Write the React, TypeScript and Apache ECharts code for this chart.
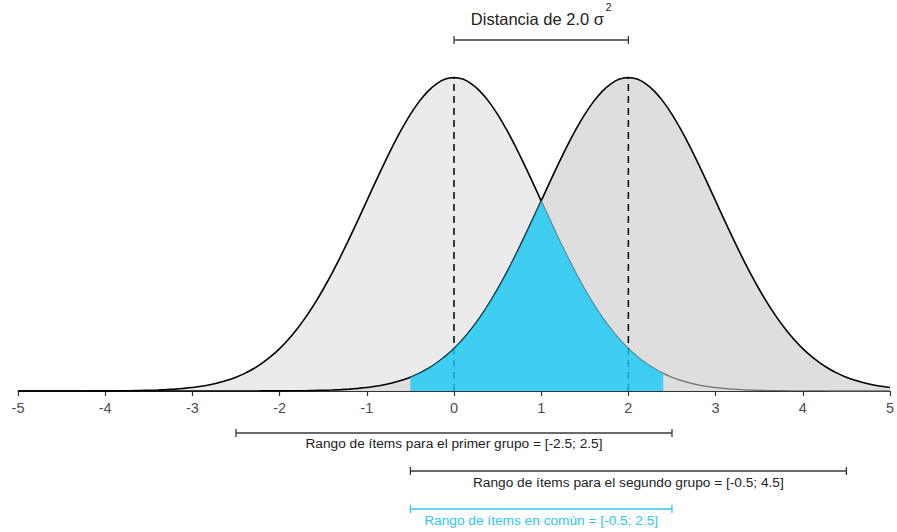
import React, { useEffect, useRef } from "react";
import * as echarts from "echarts";

// Shared x grid for both density curves
const CURVE_X = [
  -5, -4.9, -4.8, -4.7, -4.6, -4.5, -4.4, -4.3, -4.2, -4.1, -4, -3.9, -3.8, -3.7, -3.6, -3.5, -3.4, -3.3, -3.2, -3.1,
  -3, -2.9, -2.8, -2.7, -2.6, -2.5, -2.4, -2.3, -2.2, -2.1, -2, -1.9, -1.8, -1.7, -1.6, -1.5, -1.4, -1.3, -1.2, -1.1,
  -1, -0.9, -0.8, -0.7, -0.6, -0.5, -0.4, -0.3, -0.2, -0.1, 0, 0.1, 0.2, 0.3, 0.4, 0.5, 0.6, 0.7, 0.8, 0.9,
  1, 1.1, 1.2, 1.3, 1.4, 1.5, 1.6, 1.7, 1.8, 1.9, 2, 2.1, 2.2, 2.3, 2.4, 2.5, 2.6, 2.7, 2.8, 2.9,
  3, 3.1, 3.2, 3.3, 3.4, 3.5, 3.6, 3.7, 3.8, 3.9, 4, 4.1, 4.2, 4.3, 4.4, 4.5, 4.6, 4.7, 4.8, 4.9, 5,
];

// Density of the first group (mean 0)
const GROUP1_Y = [
  0, 0, 0, 0, 0, 0, 0, 0, 0.0001, 0.0001, 0.0001, 0.0002, 0.0003, 0.0004, 0.0006, 0.0009, 0.0012, 0.0017, 0.0024, 0.0033,
  0.0044, 0.006, 0.0079, 0.0104, 0.0136, 0.0175, 0.0224, 0.0283, 0.0355, 0.044, 0.054, 0.0656, 0.079, 0.094, 0.1109, 0.1295, 0.1497, 0.1714, 0.1942, 0.2179,
  0.242, 0.2661, 0.2897, 0.3123, 0.3332, 0.3521, 0.3683, 0.3814, 0.391, 0.397, 0.3989, 0.397, 0.391, 0.3814, 0.3683, 0.3521, 0.3332, 0.3123, 0.2897, 0.2661,
  0.242, 0.2179, 0.1942, 0.1714, 0.1497, 0.1295, 0.1109, 0.094, 0.079, 0.0656, 0.054, 0.044, 0.0355, 0.0283, 0.0224, 0.0175, 0.0136, 0.0104, 0.0079, 0.006,
  0.0044, 0.0033, 0.0024, 0.0017, 0.0012, 0.0009, 0.0006, 0.0004, 0.0003, 0.0002, 0.0001, 0.0001, 0.0001, 0, 0, 0, 0, 0, 0, 0, 0,
];

// Density of the second group (mean 2)
const GROUP2_Y = [
  0, 0, 0, 0, 0, 0, 0, 0, 0, 0, 0, 0, 0, 0, 0, 0, 0, 0, 0, 0,
  0, 0, 0, 0, 0, 0, 0, 0, 0.0001, 0.0001, 0.0001, 0.0002, 0.0003, 0.0004, 0.0006, 0.0009, 0.0012, 0.0017, 0.0024, 0.0033,
  0.0044, 0.006, 0.0079, 0.0104, 0.0136, 0.0175, 0.0224, 0.0283, 0.0355, 0.044, 0.054, 0.0656, 0.079, 0.094, 0.1109, 0.1295, 0.1497, 0.1714, 0.1942, 0.2179,
  0.242, 0.2661, 0.2897, 0.3123, 0.3332, 0.3521, 0.3683, 0.3814, 0.391, 0.397, 0.3989, 0.397, 0.391, 0.3814, 0.3683, 0.3521, 0.3332, 0.3123, 0.2897, 0.2661,
  0.242, 0.2179, 0.1942, 0.1714, 0.1497, 0.1295, 0.1109, 0.094, 0.079, 0.0656, 0.054, 0.044, 0.0355, 0.0283, 0.0224, 0.0175, 0.0136, 0.0104, 0.0079, 0.006, 0.0044,
];

// Shared region under both curves
const OVERLAP_X = [
  -0.5, -0.4, -0.3, -0.2, -0.1, 0, 0.1, 0.2, 0.3, 0.4, 0.5, 0.6, 0.7, 0.8, 0.9, 1,
  1.1, 1.2, 1.3, 1.4, 1.5, 1.6, 1.7, 1.8, 1.9, 2, 2.1, 2.2, 2.3, 2.4,
];
const OVERLAP_Y = [
  0.0175, 0.0224, 0.0283, 0.0355, 0.044, 0.054, 0.0656, 0.079, 0.094, 0.1109, 0.1295, 0.1497, 0.1714, 0.1942, 0.2179, 0.242,
  0.2179, 0.1942, 0.1714, 0.1497, 0.1295, 0.1109, 0.094, 0.079, 0.0656, 0.054, 0.044, 0.0355, 0.0283, 0.0224,
];

// Group means (dashed reference lines)
const MEANS = [0, 2];

// Range brackets
const BRACKET_STARTS = [0, -2.5, -0.5, -0.5];
const BRACKET_ENDS = [2, 2.5, 4.5, 2.5];
const BRACKET_LABELS = [
  "Distancia de 2.0 σ",
  "Rango de ítems para el primer grupo = [-2.5; 2.5]",
  "Rango de ítems para el segundo grupo = [-0.5; 4.5]",
  "Rango de ítems en común = [-0.5; 2.5]",
];
const BRACKET_SUPERSCRIPTS = ["2", "", "", ""];

const X_TICKS = [-5, -4, -3, -2, -1, 0, 1, 2, 3, 4, 5];

const FONT = "'Liberation Sans', Arial, sans-serif";
const CYAN = "#2fc8f0";

function textWidth(text: string, font: string) {
  if (!text) return 0;
  return new echarts.graphic.Text({ style: { text, font } }).getBoundingRect().width;
}

export default function App() {
  const ref = useRef<HTMLDivElement>(null);

  useEffect(() => {
    if (!ref.current) return;
    const chart = echarts.init(ref.current, undefined, { renderer: "svg" });

    const g1 = CURVE_X.map((x, i) => [x, GROUP1_Y[i]]);
    const g2 = CURVE_X.map((x, i) => [x, GROUP2_Y[i]]);
    const g1Right = g1.filter((p) => p[0] >= 1);
    const overlap = OVERLAP_X.map((x, i) => [x, OVERLAP_Y[i]]);
    const peak = Math.max(...GROUP1_Y);

    // vertical placement of each bracket row relative to the baseline (px)
    const rowOffsets = [-351, 42, 80, 118];
    const textOffsets = [-372, 52, 91, 129];
    const rowColors = ["#3a3a3a", "#3a3a3a", "#3a3a3a", CYAN];
    const textColors = ["#222", "#222", "#222", CYAN];
    const textSizes = [16.5, 13.7, 13.7, 13.7];
    const supSize = 11;

    const areaSeries = (data: number[][], fill: string, line: string, z: number) => ({
      type: "line",
      data,
      smooth: 0.3,
      showSymbol: false,
      z,
      lineStyle: { color: line, width: 1.6 },
      areaStyle: { color: fill, opacity: 1 },
      silent: true,
    });

    const option: any = {
      animation: false,
      grid: { left: 18, right: 5, top: 61, bottom: 141 },
      xAxis: {
        type: "value",
        min: X_TICKS[0],
        max: X_TICKS[X_TICKS.length - 1],
        interval: 1,
        splitLine: { show: false },
        axisLine: { lineStyle: { color: "#333", width: 1.2 } },
        axisTick: { length: 5, lineStyle: { color: "#333", width: 1.2 } },
        axisLabel: { color: "#4d4d4d", fontSize: 14.5, fontFamily: FONT, margin: 9 },
      },
      yAxis: { type: "value", min: 0, max: 0.42, show: false },
      series: [
        areaSeries(g1, "#ebebeb", "#000", 1),
        areaSeries(g2, "#dedede", "#000", 2),
        {
          type: "line",
          data: g1Right,
          smooth: 0.3,
          showSymbol: false,
          z: 3,
          lineStyle: { color: "#6e6e6e", width: 1.3 },
          silent: true,
        },
        ...MEANS.map((m) => ({
          type: "line",
          data: [
            [m, 0],
            [m, peak],
          ],
          showSymbol: false,
          z: 4,
          lineStyle: { color: "#000", width: 1.5, type: [7, 5] },
          silent: true,
        })),
        {
          type: "line",
          data: overlap,
          smooth: false,
          showSymbol: false,
          z: 6,
          lineStyle: { width: 0, opacity: 0 },
          areaStyle: { color: "rgba(23,201,245,0.8)", opacity: 1 },
          silent: true,
        },
        {
          type: "custom",
          z: 7,
          clip: false,
          silent: true,
          encode: { x: [0, 1], y: 2 },
          data: BRACKET_STARTS.map((s, i) => [s, BRACKET_ENDS[i], i]),
          renderItem: (params: any, api: any) => {
            const i = api.value(2);
            const a = api.coord([api.value(0), 0]);
            const b = api.coord([api.value(1), 0]);
            const y = a[1] + rowOffsets[i];
            const ty = a[1] + textOffsets[i];
            const stroke = { stroke: rowColors[i], lineWidth: 1.3 };
            const font = `${textSizes[i]}px ${FONT}`;
            const supFont = `${supSize}px ${FONT}`;
            const label = BRACKET_LABELS[i];
            const sup = BRACKET_SUPERSCRIPTS[i];
            const w1 = textWidth(label, font);
            const w2 = sup ? textWidth(sup, supFont) + 1.5 : 0;
            const startX = (a[0] + b[0]) / 2 - (w1 + w2) / 2;
            const children: any[] = [
              { type: "line", shape: { x1: a[0], y1: y, x2: b[0], y2: y }, style: stroke },
              { type: "line", shape: { x1: a[0], y1: y - 4, x2: a[0], y2: y + 4 }, style: stroke },
              { type: "line", shape: { x1: b[0], y1: y - 4, x2: b[0], y2: y + 4 }, style: stroke },
              {
                type: "text",
                style: {
                  x: startX,
                  y: ty,
                  text: label,
                  fill: textColors[i],
                  font,
                  align: "left",
                  verticalAlign: "middle",
                },
              },
            ];
            if (sup) {
              children.push({
                type: "text",
                style: {
                  x: startX + w1 + 1.5,
                  y: ty - 12,
                  text: sup,
                  fill: textColors[i],
                  font: supFont,
                  align: "left",
                  verticalAlign: "middle",
                },
              });
            }
            return { type: "group", children };
          },
        },
      ],
    };

    chart.setOption(option);
    return () => chart.dispose();
  }, []);

  return (
    <div
      ref={ref}
      style={{ position: "absolute", left: 0, top: 0, width: 897, height: 532, background: "#fff" }}
    />
  );
}
